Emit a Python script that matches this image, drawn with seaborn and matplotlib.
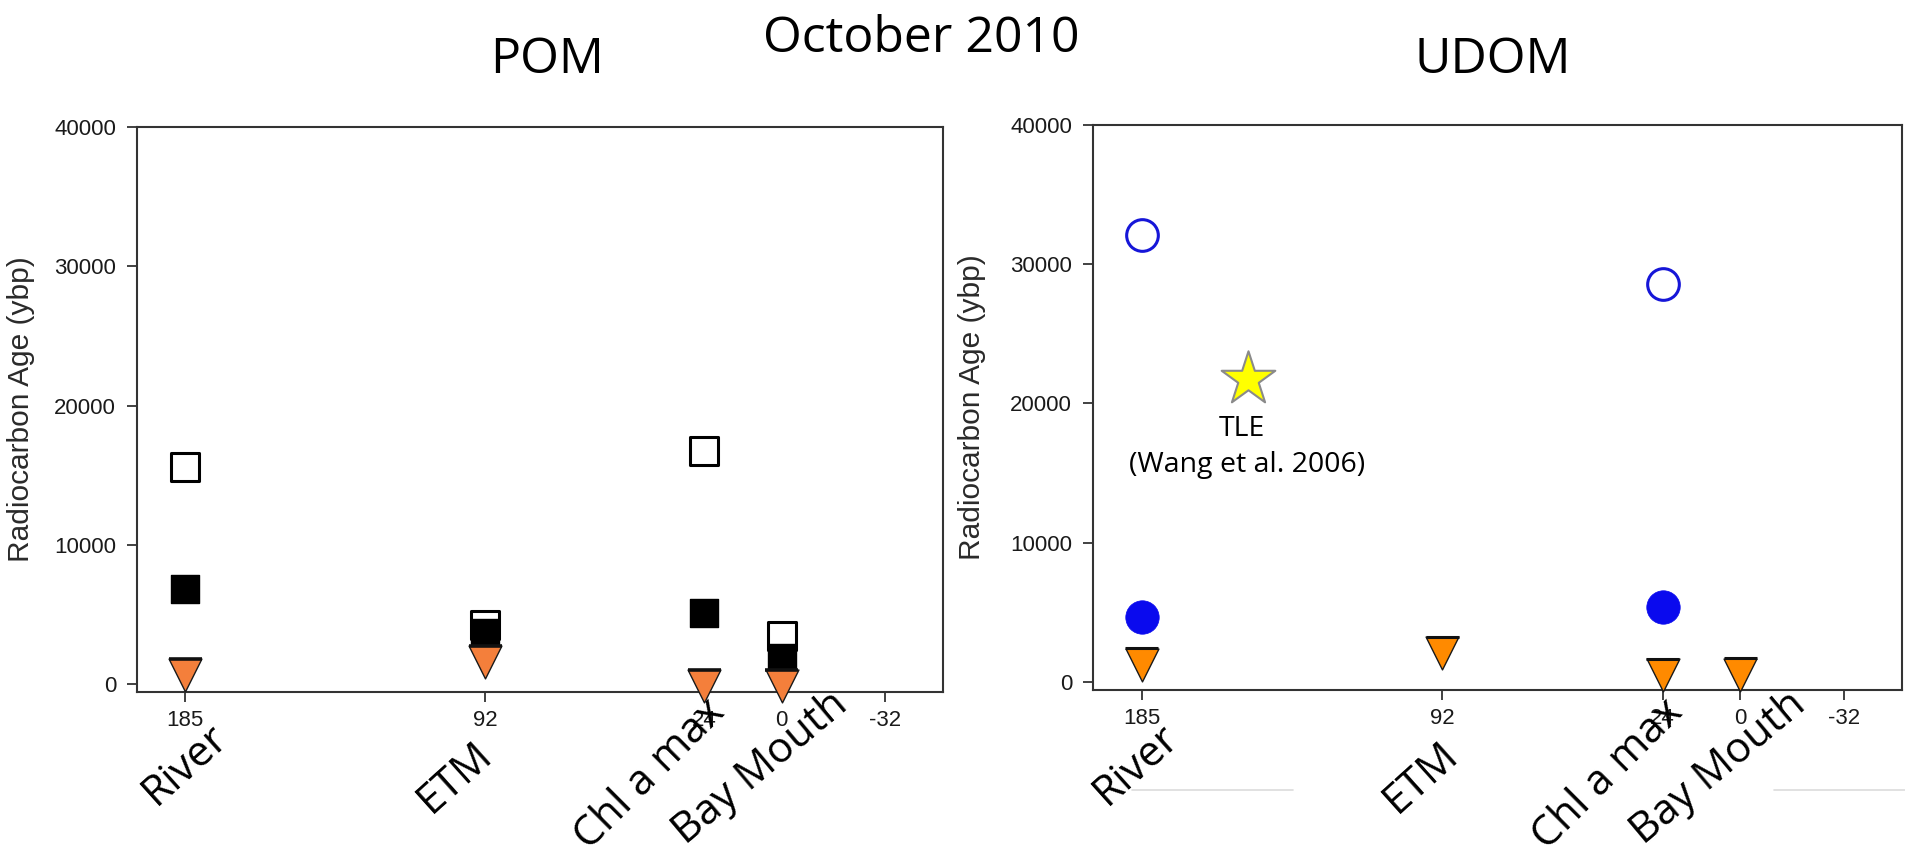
import matplotlib
matplotlib.use('Agg')
import matplotlib.pyplot as plt
import seaborn as sns
from matplotlib.lines import Line2D
from matplotlib.path import Path

sns.set_style('ticks')
plt.rcParams['font.family'] = ['Liberation Sans', 'DejaVu Sans']

# ---------------- data ----------------
site_labels = ['River', 'ETM', 'Chl a max', 'Bay Mouth']
site_km = [185, 92, 24, 0]
x_ticks = [185, 92, 24, 0, -32]
y_ticks = [0, 10000, 20000, 30000, 40000]

# POM (squares: open = older fraction, filled = younger fraction; triangles)
pom_open = [15600, 4250, 16750, 3450]
pom_filled = [6850, 3700, 5150, 1900]
pom_tri = [650, 1600, -150, -150]

# UDOM
udom_circle_km = [185, 24]
udom_open = [32050, 28550]
udom_filled = [4700, 5400]
udom_tri = [1250, 2100, 500, 540]

# TLE reference (Wang et al. 2006)
tle_km = [152]
tle_age = [21750]

W, H = 1905, 852
fig = plt.figure(figsize=(W / 100, H / 100), dpi=100)
fig.patch.set_facecolor('white')

def px(x, y):
    return x / W, 1 - y / H

ax1 = fig.add_axes([137 / W, 1 - 692 / H, (943 - 137) / W, (692 - 127) / H])
ax2 = fig.add_axes([1093 / W, 1 - 690 / H, (1902 - 1093) / W, (690 - 124.5) / H])

spine_col = '#333333'
for ax, lx in ((ax1, -0.126), (ax2, -0.132)):
    ax.set_xlim(200, -50)
    ax.set_ylim(-550, 40000)
    ax.set_xticks(x_ticks)
    ax.set_xticklabels([str(v) for v in x_ticks])
    ax.set_yticks(y_ticks)
    ax.set_yticklabels([str(v) for v in y_ticks])
    for s in ax.spines.values():
        s.set_visible(True)
        s.set_color(spine_col)
        s.set_linewidth(1.5)
    ax.tick_params(axis='both', direction='out', length=7, width=1.3,
                   color=spine_col, labelsize=16, labelcolor='#1a1a1a')
    ax.tick_params(axis='x', pad=6)
    ax.tick_params(axis='y', pad=8)
    ax.set_ylabel('Radiocarbon Age (ybp)', fontsize=21.5, color='#2a2a2a')
    ax.yaxis.set_label_coords(lx, 0.5)
    ax.set_xlabel('')
    ax.set_facecolor('white')
    ax.grid(False)

# thick top edge drawn on the downward triangles (as in the original)
top_bar = Path([(-1, 1), (1, 1)], [Path.MOVETO, Path.LINETO])

# ---- POM panel ----
sns.scatterplot(x=site_km, y=pom_open, marker='s', s=380, color='white',
                edgecolor='black', linewidth=2.2, ax=ax1, zorder=3, clip_on=False)
sns.scatterplot(x=site_km, y=pom_filled, marker='s', s=400, color='black',
                edgecolor='black', linewidth=1, ax=ax1, zorder=4, clip_on=False)
sns.scatterplot(x=site_km, y=pom_tri, marker='v', s=560, color='#F47F3B',
                edgecolor='#1a1a1a', linewidth=1, ax=ax1, zorder=5, clip_on=False)
ax1.scatter(site_km, pom_tri, marker=top_bar, s=560, facecolors='none',
            edgecolors='#111111', linewidths=2.6, zorder=6, clip_on=False)

# ---- UDOM panel ----
sns.scatterplot(x=udom_circle_km, y=udom_open, marker='o', s=520, color='white',
                edgecolor='#1616D8', linewidth=2.2, ax=ax2, zorder=3, clip_on=False)
sns.scatterplot(x=udom_circle_km, y=udom_filled, marker='o', s=580, color='#0A0AEE',
                edgecolor='#0A0AEE', linewidth=0.5, ax=ax2, zorder=4, clip_on=False)
sns.scatterplot(x=site_km, y=udom_tri, marker='v', s=560, color='#FF8A00',
                edgecolor='#1a1a1a', linewidth=1, ax=ax2, zorder=5, clip_on=False)
ax2.scatter(site_km, udom_tri, marker=top_bar, s=560, facecolors='none',
            edgecolors='#111111', linewidths=2.2, zorder=6, clip_on=False)
sns.scatterplot(x=tle_km, y=tle_age, marker='*', s=1650, color='#FFFF00',
                edgecolor='#8a8a8a', linewidth=1.5, ax=ax2, zorder=5, clip_on=False)
ax2.text(154, 18170, 'TLE', family=['Open Sans', 'DejaVu Sans'], fontsize=20.5,
         ha='center', va='center', color='black')
ax2.text(152.4, 15590, '(Wang et al. 2006)', family=['Open Sans', 'DejaVu Sans'],
         fontsize=20.5, ha='center', va='center', color='black')

# ---- titles ----
big = ['Open Sans', 'DejaVu Sans']
fig.text(*px(547, 60), 'POM', family=big, fontsize=36, ha='center', va='center', color='black')
fig.text(*px(921, 39), 'October 2010', family=big, fontsize=36, ha='center', va='center', color='black')
fig.text(*px(1493, 60), 'UDOM', family=big, fontsize=36, ha='center', va='center', color='black')

# ---- rotated site labels ----
left_pos = [(185, 765, 42), (455, 777, 42), (650, 775, 45), (760, 768, 40)]
right_pos = [(1136, 765, 42), (1421, 777, 42), (1608, 775, 45), (1718, 768, 40)]
for lab, (x, y, r) in zip(site_labels, left_pos):
    fig.text(*px(x, y), lab, family=big, fontsize=30.5, rotation=r,
             rotation_mode='anchor', ha='center', va='center', color='black')
for lab, (x, y, r) in zip(site_labels, right_pos):
    fig.text(*px(x, y), lab, family=big, fontsize=30.5, rotation=r,
             rotation_mode='anchor', ha='center', va='center', color='black')

# faint slide artefact lines under right panel labels
for x0, x1 in [(1132, 1293), (1774, 1905)]:
    fig.add_artist(Line2D([x0 / W, x1 / W], [1 - 790 / H] * 2,
                          color='#dcdcdc', lw=1.2))

fig.savefig('out.png', dpi=100, facecolor='white')
